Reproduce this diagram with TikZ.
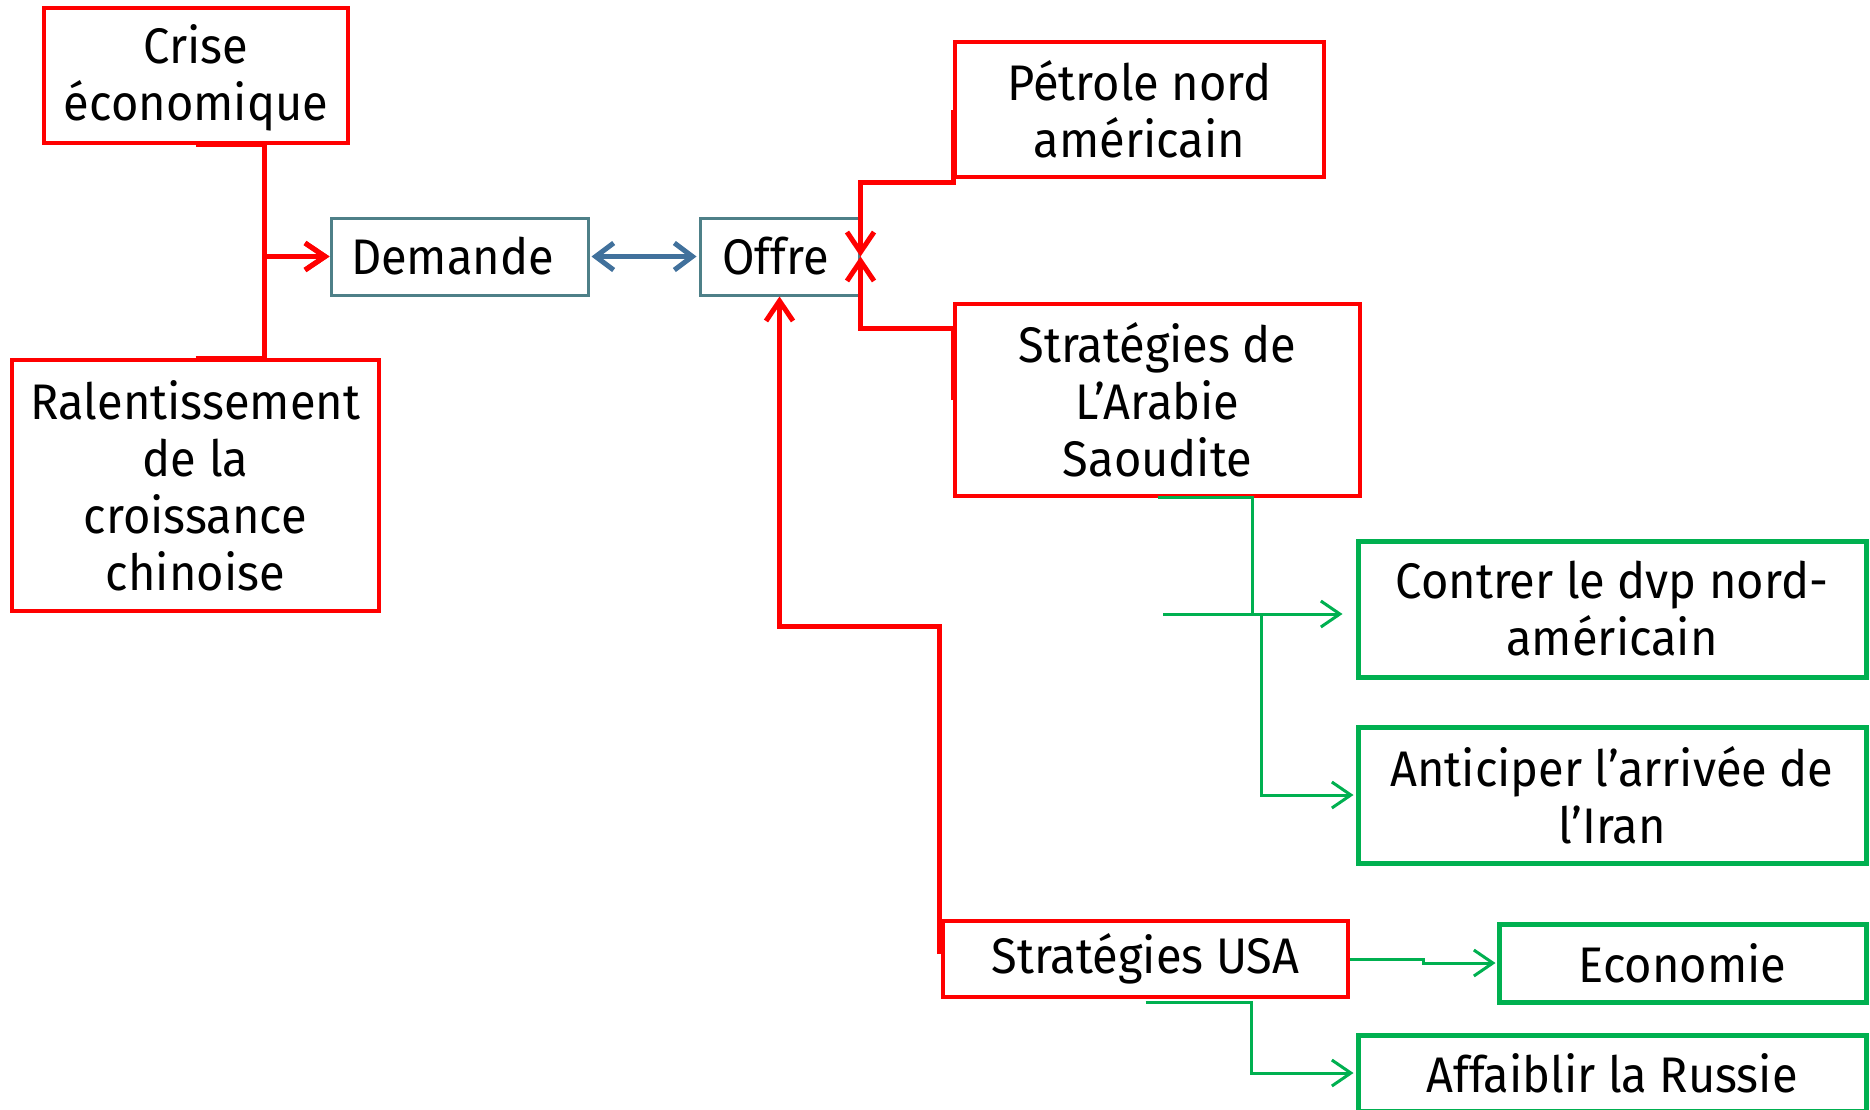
\documentclass[tikz,border=0pt]{standalone}
\usepackage{fontspec}
\setmainfont{Fira Sans}[FakeStretch=0.94]
\usetikzlibrary{arrows.meta}
\definecolor{cred}{HTML}{FF0000}
\definecolor{cteal}{HTML}{4E8088}
\definecolor{csteel}{HTML}{41719C}
\definecolor{cgreen}{HTML}{00B050}
\begin{document}
\begin{tikzpicture}[x=1pt,y=-1pt,
  txt/.style={align=center,inner sep=0pt,font=\fontsize{50}{57}\selectfont},
  redbox/.style={txt,draw=cred,line width=3.5pt},
  tealbox/.style={txt,draw=cteal,line width=3pt},
  greenbox/.style={txt,draw=cgreen,line width=5pt},
  redline/.style={draw=cred,line width=5pt},
  greenline/.style={draw=cgreen,line width=3pt},
  barb/.style={-{Straight Barb[length=20pt,width=27pt]}},
  barbs/.style={{Straight Barb[length=18pt,width=27pt]}-{Straight Barb[length=18pt,width=27pt]}},
  gbarb/.style={-{Straight Barb[length=19pt,width=26pt]}}
]
\useasboundingbox (0,0) rectangle (1870,1109);
\fill[white] (0,0) rectangle (1870,1109);

% nodes
\node[redbox,minimum width=304pt,minimum height=135pt] (crise) at (196,75.5) {\rule{0pt}{44pt}Crise\\économique};
\node[redbox,minimum width=367pt,minimum height=251pt] (ralent) at (195.5,485.5) {Ralentissement\\de la\\croissance\\chinoise};
\node[tealbox,minimum width=257pt,minimum height=77pt] (demande) at (459.5,256.5) {\hspace*{-14pt}Demande};
\node[tealbox,minimum width=159pt,minimum height=77pt] (offre) at (779.5,256.5) {\hspace*{-8pt}Offre};
\node[redbox,minimum width=369pt,minimum height=135pt] (pet) at (1139.5,109.5) {Pétrole nord\\américain};
\node[redbox,minimum width=405pt,minimum height=192pt] (arabie) at (1157.5,400) {Stratégies de\\L’Arabie\\Saoudite};
\node[redbox,minimum width=405pt,minimum height=76pt] (usa) at (1145.5,959) {Stratégies USA};
\node[greenbox,minimum width=508pt,minimum height=136pt] (contrer) at (1612,609) {Contrer le dvp nord-\\américain};
\node[greenbox,minimum width=508pt,minimum height=136pt] (antic) at (1612,795) {Anticiper l’arrivée de\\l’Iran};
\node[greenbox,minimum width=367pt,minimum height=78pt] (eco) at (1682.5,963) {Economie};
\node[greenbox,minimum width=508pt,minimum height=76pt] (aff) at (1612,1073) {Affaiblir la Russie};

% red connectors to Demande
\draw[redline,barb] (crise.south) -- ++(68,0) |- (demande.west);
\draw[redline,barb] (ralent.north) -- ++(68.5,0) |- (demande.west);

% Demande <-> Offre
\draw[draw=csteel,line width=5pt,barbs,shorten <=2pt,shorten >=2pt] (demande.east) -- (offre.west);

% Petrole / Arabie -> Offre
\draw[redline,barb] (pet.west) -- ++(0,72.5) -| (offre.east);
\draw[redline,barb] (arabie.west) -- ++(0,-72) -| (offre.east);

% USA -> Offre
\coordinate (usastart) at ([xshift=-2pt,yshift=5pt]usa.west);
\draw[redline,barb] (usastart) -- ++(0,-328) -| (offre.south);

% green connectors from Arabie
\coordinate (jn) at (1252,614);
\coordinate (jn2) at (1261,614);
\coordinate (stray) at (1163,614);
\draw[greenline,gbarb,shorten >=13pt] (arabie.south) -- ++(95,0) |- ([yshift=-5pt]contrer.west);
\draw[greenline] (stray) -- (jn);
\draw[greenline,gbarb,shorten >=2pt] (jn2) |- (antic.west);

% green connectors from USA
\draw[greenline,gbarb,shorten >=1pt] (usa.east) -- ++(74,0) |- (eco.west);
\draw[greenline,gbarb,shorten >=2pt] ([yshift=-4pt]usa.south) -- ++(106,0) |- (aff.west);
\end{tikzpicture}
\end{document}
